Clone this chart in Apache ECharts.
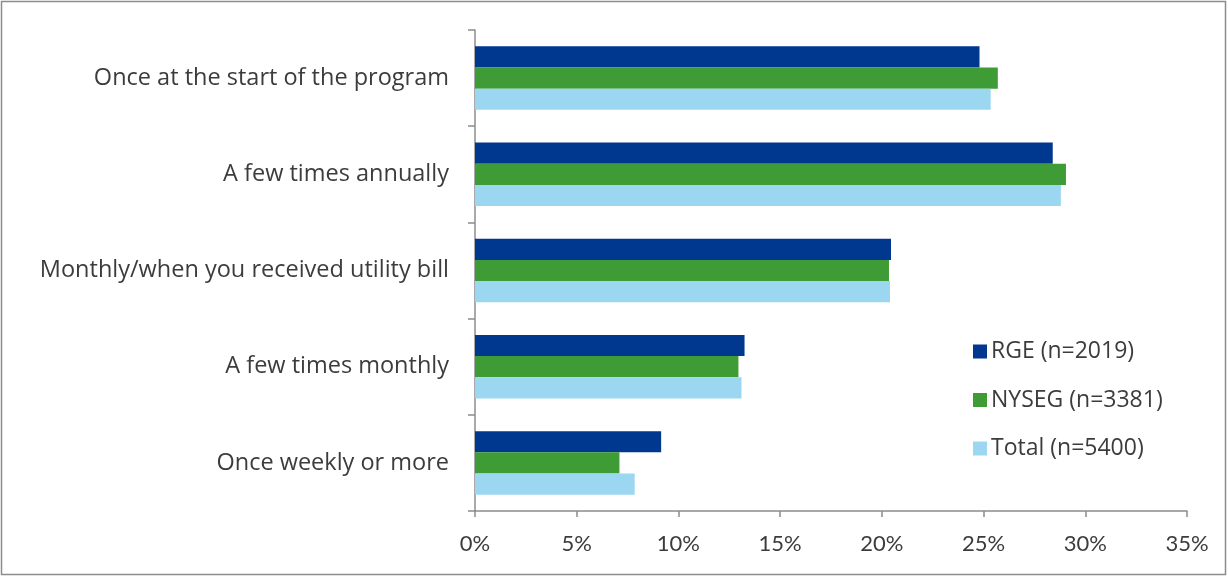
<!DOCTYPE html>
<html>
<head>
<meta charset="utf-8">
<style>
  html, body { margin: 0; padding: 0; background: #fff; }
  #chart { width: 1228px; height: 577px; }
</style>
<script src="https://cdn.jsdelivr.net/npm/echarts@6/dist/echarts.min.js"></script>
</head>
<body>
<div id="chart"></div>
<script>
// Survey question: how often participants reviewed their information
const categories = [
  'Once at the start of the program',
  'A few times annually',
  'Monthly/when you received utility bill',
  'A few times monthly',
  'Once weekly or more'
];
const seriesNames = ['RGE (n=2019)', 'NYSEG (n=3381)', 'Total (n=5400)'];
const rgeValues = [24.8, 28.4, 20.45, 13.25, 9.15];
const nysegValues = [25.7, 29.05, 20.35, 12.95, 7.1];
const totalValues = [25.35, 28.8, 20.4, 13.1, 7.85];
const xTicks = [0, 5, 10, 15, 20, 25, 30, 35];

const colors = ['#00378F', '#3E9B35', '#9BD7F0'];
const textColor = '#3C3C3C';
const axisColor = '#8C8C8C';
const labelFont = '"Open Sans", Lato, sans-serif';
const tickFont = 'Lato, "Open Sans", sans-serif';

const chart = echarts.init(document.getElementById('chart'), null, { renderer: 'canvas' });

const seriesData = [rgeValues, nysegValues, totalValues];

chart.setOption({
  animation: false,
  backgroundColor: '#ffffff',
  color: colors,
  textStyle: { fontFamily: labelFont },
  graphic: [{
    type: 'rect',
    shape: { x: 1.5, y: 1.5, width: 1224, height: 573 },
    style: { fill: 'none', stroke: axisColor, lineWidth: 1.5 },
    silent: true
  }],
  grid: { left: 475, right: 41, top: 30, bottom: 66, containLabel: false },
  legend: {
    orient: 'vertical',
    left: 968,
    top: 335,
    itemWidth: 14,
    itemHeight: 14,
    itemGap: 25.5,
    icon: 'rect',
    data: seriesNames,
    textStyle: { color: textColor, fontSize: 23, lineHeight: 22, fontFamily: labelFont, padding: [0, 0, 0, -1] }
  },
  xAxis: {
    type: 'value',
    min: xTicks[0],
    max: xTicks[xTicks.length - 1],
    interval: 5,
    splitLine: { show: false },
    axisLine: { show: true, lineStyle: { color: axisColor, width: 1.5 } },
    axisTick: { show: true, length: 6, lineStyle: { color: axisColor, width: 1.5 } },
    axisLabel: {
      color: textColor,
      fontSize: 22,
      fontFamily: tickFont,
      margin: 22,
      formatter: v => v + '%'
    }
  },
  yAxis: {
    type: 'category',
    data: categories,
    inverse: true,
    axisLine: { show: true, lineStyle: { color: axisColor, width: 1.5 } },
    axisTick: { show: true, length: 7, alignWithLabel: false, lineStyle: { color: axisColor, width: 1.5 } },
    axisLabel: { color: textColor, fontSize: 23.5, fontFamily: labelFont, margin: 26, padding: [4, 0, 0, 0] }
  },
  series: seriesNames.map((name, i) => ({
    name: name,
    type: 'bar',
    data: seriesData[i],
    barGap: '0%',
    barCategoryGap: '34%',
    itemStyle: { color: colors[i] }
  }))
});
</script>
</body>
</html>
